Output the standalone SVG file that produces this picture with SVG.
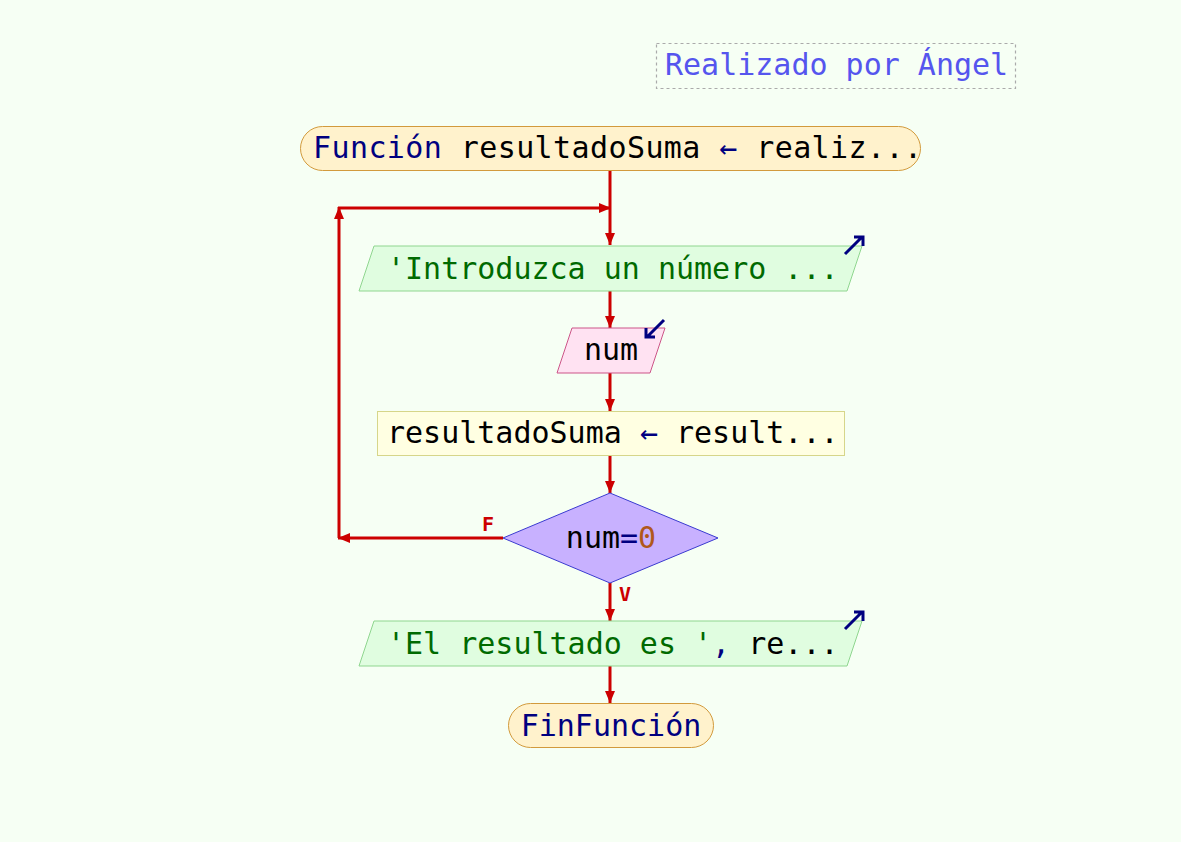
<svg xmlns="http://www.w3.org/2000/svg" width="1181" height="842" viewBox="0 0 1181 842">
<defs>
<style>
text{font-family:"DejaVu Sans Mono","Liberation Mono",monospace;font-size:30px;fill:#000}
.kw{fill:#000080}
.str{fill:#006a00}
.num{fill:#b0581c}
.lbl{font-family:"DejaVu Sans Mono",monospace;font-size:20px;font-weight:bold;fill:#cc0000}
.conn{stroke:#cc0000;stroke-width:3;fill:none}
.icon{stroke:#000080;stroke-width:3;fill:none}
</style>
<marker id="ah" viewBox="0 0 12 10" refX="12" refY="5" markerWidth="12" markerHeight="10" markerUnits="userSpaceOnUse" orient="auto">
<path d="M0,0 L12,5 L0,10 Z" fill="#cc0000"/>
</marker>
</defs>
<rect width="1181" height="842" fill="#f6fff4"/>

<g id="comment">
<rect x="656.5" y="43.5" width="359" height="45" fill="none" stroke="#aaaaaa" stroke-width="1.2" stroke-dasharray="3,3"/>
<text x="665" y="75" style="fill:#5555ee">Realizado por Ángel</text>
</g>

<g id="connectors">
<line class="conn" x1="610" y1="171" x2="610" y2="245" marker-end="url(#ah)"/>
<line class="conn" x1="610" y1="291" x2="610" y2="328" marker-end="url(#ah)"/>
<line class="conn" x1="610" y1="373" x2="610" y2="411" marker-end="url(#ah)"/>
<line class="conn" x1="610" y1="456" x2="610" y2="493" marker-end="url(#ah)"/>
<line class="conn" x1="610" y1="583" x2="610" y2="621" marker-end="url(#ah)"/>
<line class="conn" x1="610" y1="666" x2="610" y2="703" marker-end="url(#ah)"/>
<line class="conn" x1="503" y1="538" x2="338" y2="538" marker-end="url(#ah)"/>
<line class="conn" x1="339" y1="538" x2="339" y2="207" marker-end="url(#ah)"/>
<line class="conn" x1="338" y1="208" x2="611" y2="208" marker-end="url(#ah)"/>
<text class="lbl" x="482" y="531">F</text>
<text class="lbl" x="619" y="601">V</text>
</g>

<g id="start">
<rect x="300.5" y="126.5" width="620" height="44" rx="22" ry="22" fill="#fff2cc" stroke="#d29a3c" stroke-width="1"/>
<text x="313" y="158" textLength="609" lengthAdjust="spacing"><tspan class="kw">Función</tspan> resultadoSuma <tspan class="kw">←</tspan> realiz...</text>
</g>

<g id="output1">
<polygon points="374,246 862,246 847,291 359,291" fill="#e0fde0" stroke="#8fd68f" stroke-width="1"/>
<text x="387" y="279" class="str">'Introduzca un número ...</text>
<path class="icon" d="M845,254 L862,237 M854,237 L863,237 L863,246"/>
</g>

<g id="input">
<polygon points="572,328 665,328 650,373 557,373" fill="#ffe2f2" stroke="#cc5588" stroke-width="1"/>
<text x="611" y="360" text-anchor="middle">num</text>
<path class="icon" d="M664,320 L647,337 M646,328 L646,337 L655,337"/>
</g>

<g id="process">
<rect x="377.5" y="411.5" width="467" height="44" fill="#ffffe2" stroke="#d6d68a" stroke-width="1"/>
<text x="387" y="443">resultadoSuma <tspan class="kw">←</tspan> result...</text>
</g>

<g id="decision">
<polygon points="610,493 718,538 610,583 503,538" fill="#c8b1ff" stroke="#3a3ad0" stroke-width="1"/>
<text x="611" y="548" text-anchor="middle">num<tspan class="kw">=</tspan><tspan class="num">0</tspan></text>
</g>

<g id="output2">
<polygon points="374,621 862,621 847,666 359,666" fill="#e0fde0" stroke="#8fd68f" stroke-width="1"/>
<text x="387" y="654"><tspan class="str">'El resultado es '</tspan><tspan class="kw">, </tspan>re...</text>
<path class="icon" d="M845,629 L862,612 M854,612 L863,612 L863,621"/>
</g>

<g id="end">
<rect x="508.5" y="703.5" width="205" height="44" rx="22" ry="22" fill="#fff2cc" stroke="#d29a3c" stroke-width="1"/>
<text x="611" y="736" text-anchor="middle" class="kw">FinFunción</text>
</g>
</svg>
